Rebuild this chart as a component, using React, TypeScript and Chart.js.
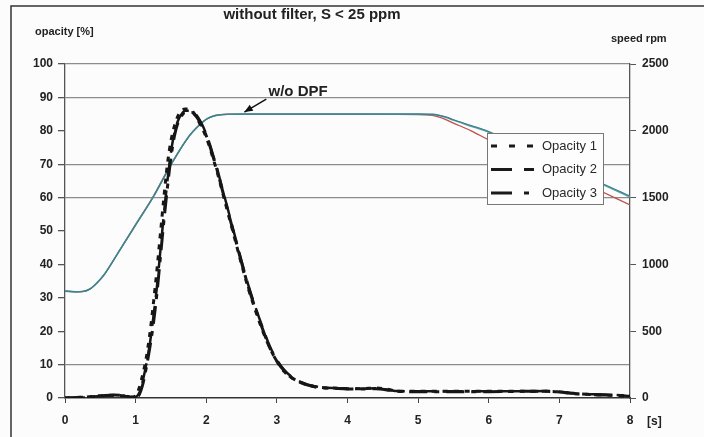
import React, { useEffect, useRef } from "react";
import { Chart, registerables } from "chart.js";

Chart.register(...registerables);

// ---- Data ----
const TITLE = "without filter, S < 25 ppm";
const LEFT_AXIS_TITLE = "opacity [%]";
const RIGHT_AXIS_TITLE = "speed rpm";
const X_UNIT = "[s]";
const ANNOTATION = "w/o DPF";

const OPACITY_LABELS = ["Opacity 1", "Opacity 2", "Opacity 3"];

const TIME_OPACITY = [
  0, 0.3, 0.5, 0.7, 0.85, 0.95, 1.0, 1.05, 1.1, 1.15, 1.2, 1.25, 1.3, 1.35, 1.4,
  1.45, 1.5, 1.55, 1.6, 1.65, 1.7, 1.75, 1.8, 1.85, 1.9, 1.95, 2.0, 2.05, 2.1,
  2.15, 2.2, 2.3, 2.4, 2.5, 2.6, 2.7, 2.8, 2.9, 3.0, 3.1, 3.2, 3.3, 3.4, 3.5,
  3.6, 3.8, 4.0, 4.2, 4.4, 4.6, 4.7, 5.0, 5.5, 6.0, 6.5, 6.8, 7.0, 7.2, 7.5,
  7.8, 8.0,
];

const OPACITY_1 = [
  0, 0.3, 0.7, 0.8, 0.6, 0.3, 0.6, 3, 7, 12, 19, 28, 38, 49, 60,
  70, 77, 81.5, 84.5, 86, 86.5, 86.5, 86, 84.5, 82.5, 80.5, 78, 75, 71.5,
  68, 64, 56, 48, 40, 32.5, 26, 20, 15, 11, 8, 6.2, 5, 4.2, 3.6,
  3.2, 3, 2.8, 2.8, 3, 2.5, 2, 2, 2, 2, 2, 2, 1.8, 1.3, 1,
  0.8, 0.5,
];

const OPACITY_2 = [
  0, 0.2, 0.6, 0.8, 0.6, 0.2, 0.3, 1.5, 5, 10, 16, 24, 33, 44, 55,
  65, 73.5, 79.5, 83, 85, 86, 86, 86, 85, 83.5, 81.5, 79, 76, 72.5,
  69, 65, 57, 49, 41, 33.5, 27, 21, 15.5, 11.5, 8.5, 6.5, 5.2, 4.3, 3.7,
  3.3, 3, 2.9, 2.8, 2.9, 2.4, 2.1, 2, 2, 2, 2, 2.1, 1.9, 1.4, 1.1,
  0.9, 0.6,
];

const OPACITY_3 = [
  0, 0.3, 0.6, 0.9, 0.7, 0.2, 0.2, 1, 4, 9, 15, 22, 31, 42, 53,
  63, 72, 78.5, 82.5, 84.5, 85.5, 85.5, 85.5, 84.5, 83, 81, 78.5, 75.5, 72,
  68.5, 64.5, 56.5, 48.5, 40.5, 33, 26.5, 20.5, 15, 11, 8.2, 6.2, 4.9, 4.1, 3.5,
  3.1, 2.9, 2.7, 2.7, 2.8, 2.3, 2, 1.9, 1.9, 1.9, 2, 2, 1.8, 1.4, 1,
  0.8, 0.5,
];

const TIME_SPEED = [
  0, 0.15, 0.25, 0.35, 0.45, 0.55, 0.75, 1.0, 1.25, 1.5, 1.75, 1.9, 2.0, 2.1, 2.2, 2.3,
  2.5, 3.0, 4.0, 5.0, 5.2, 5.3, 5.4, 5.5, 5.75, 6.0, 6.5, 7.0, 7.5, 8.0,
];

const SPEED_1 = [
  800, 795, 797, 815, 860, 920, 1085, 1295, 1505, 1745, 1955, 2042, 2086, 2110, 2120, 2124,
  2125, 2125, 2125, 2125, 2123, 2115, 2100, 2080, 2035, 1990, 1870, 1750, 1625, 1505,
];

const SPEED_2 = [
  800, 795, 797, 815, 860, 920, 1085, 1295, 1505, 1745, 1955, 2042, 2086, 2110, 2120, 2124,
  2125, 2125, 2125, 2125, 2123, 2116, 2102, 2083, 2040, 1995, 1878, 1758, 1632, 1512,
];

const SPEED_3 = [
  800, 795, 797, 815, 860, 920, 1085, 1300, 1510, 1750, 1955, 2042, 2086, 2110, 2120, 2124,
  2125, 2125, 2125, 2122, 2115, 2102, 2082, 2058, 2000, 1932, 1812, 1692, 1570, 1445,
];

const Y_GRID_VALUES = [100, 90, 70, 60, 10];
const X_MIN = 0;
const X_MAX = 8;
const Y_MAX = 100;
const Y1_MAX = 2500;

const FONT = '"Liberation Sans", Arial, sans-serif';

const OPACITY_STYLES = [
  { dash: [5, 6], legendDash: [6, 12], width: 3 },
  { dash: [20, 9], legendDash: [21, 12], width: 2.5 },
  { dash: [18, 7, 5, 7], legendDash: [21, 12, 5, 12], width: 3 },
];

const pts = (xs: number[], ys: number[]) => xs.map((x, i) => ({ x, y: ys[i] }));

const overlayPlugin = {
  id: "overlay",
  beforeDraw(chart: any) {
    const { ctx, width, height } = chart;
    ctx.save();
    ctx.fillStyle = "#fcfcfc";
    ctx.fillRect(0, 0, width, height);
    ctx.restore();
  },
  afterDraw(chart: any) {
    const { ctx, chartArea } = chart;
    const xs = chart.scales.x;
    const ys = chart.scales.y;
    ctx.save();
    // frame
    ctx.strokeStyle = "#333";
    ctx.lineWidth = 1.5;
    ctx.beginPath();
    ctx.moveTo(11, 440);
    ctx.lineTo(11, 6);
    ctx.lineTo(710, 6);
    ctx.stroke();

    ctx.fillStyle = "#222";
    ctx.textBaseline = "middle";
    // title
    ctx.font = `bold 15px ${FONT}`;
    ctx.textAlign = "center";
    ctx.fillText(TITLE, 312, 15);
    // axis titles
    ctx.font = `bold 11px ${FONT}`;
    ctx.textAlign = "left";
    ctx.fillText(LEFT_AXIS_TITLE, 35, 32);
    ctx.fillText(RIGHT_AXIS_TITLE, 611, 39);
    // x unit
    ctx.font = `bold 12px ${FONT}`;
    ctx.fillText(X_UNIT, chartArea.right + 17, 422);

    // annotation
    ctx.font = `bold 15px ${FONT}`;
    ctx.textAlign = "center";
    ctx.fillText(ANNOTATION, xs.getPixelForValue(3.3), ys.getPixelForValue(91.6));
    const x0 = xs.getPixelForValue(2.85);
    const y0 = ys.getPixelForValue(89.5);
    const x1 = xs.getPixelForValue(2.54);
    const y1 = ys.getPixelForValue(85.6);
    ctx.strokeStyle = "#111";
    ctx.lineWidth = 1.5;
    ctx.beginPath();
    ctx.moveTo(x0, y0);
    ctx.lineTo(x1, y1);
    ctx.stroke();
    const ang = Math.atan2(y1 - y0, x1 - x0);
    const L = 9;
    ctx.beginPath();
    ctx.moveTo(x1, y1);
    ctx.lineTo(x1 - L * Math.cos(ang - 0.4), y1 - L * Math.sin(ang - 0.4));
    ctx.lineTo(x1 - L * Math.cos(ang + 0.4), y1 - L * Math.sin(ang + 0.4));
    ctx.closePath();
    ctx.fillStyle = "#111";
    ctx.fill();

    // legend
    const bx = chartArea.right - 143;
    const by = chartArea.top + 69;
    const bw = 116;
    const bh = 71;
    ctx.fillStyle = "#fdfdfd";
    ctx.fillRect(bx, by, bw, bh);
    ctx.strokeStyle = "#777";
    ctx.lineWidth = 1;
    ctx.strokeRect(bx + 0.5, by + 0.5, bw, bh);
    ctx.font = `13px ${FONT}`;
    ctx.textAlign = "left";
    OPACITY_LABELS.forEach((lab, i) => {
      const yy = by + 13 + i * 23.5;
      ctx.strokeStyle = "#1a1a1a";
      ctx.lineWidth = 3;
      ctx.setLineDash(OPACITY_STYLES[i].legendDash);
      ctx.beginPath();
      ctx.moveTo(bx + 4, yy);
      ctx.lineTo(bx + 47, yy);
      ctx.stroke();
      ctx.setLineDash([]);
      ctx.fillStyle = "#2a2a2a";
      ctx.fillText(lab, bx + 55, yy);
    });
    ctx.restore();
  },
};

export default function App() {
  const canvasRef = useRef<HTMLCanvasElement | null>(null);

  useEffect(() => {
    if (!canvasRef.current) return;
    const speedStyle = (data: number[], color: string, width: number, label: string, order: number) => ({
      label,
      data: pts(TIME_SPEED, data),
      yAxisID: "y1",
      borderColor: color,
      borderWidth: width,
      pointRadius: 0,
      fill: false,
      cubicInterpolationMode: "monotone" as const,
      order,
    });
    const chart = new Chart(canvasRef.current, {
      type: "line",
      data: {
        datasets: [
          ...OPACITY_LABELS.map((label, i) => ({
            label,
            data: pts(TIME_OPACITY, [OPACITY_1, OPACITY_2, OPACITY_3][i]),
            yAxisID: "y",
            borderColor: "#161616",
            borderWidth: OPACITY_STYLES[i].width,
            borderDash: OPACITY_STYLES[i].dash,
            pointRadius: 0,
            fill: false,
            cubicInterpolationMode: "monotone" as const,
            order: 1,
          })),
          speedStyle(SPEED_1, "#5a9ea6", 1.6, "speed 1", 3),
          speedStyle(SPEED_2, "#3b808b", 1.2, "speed 2", 2),
          speedStyle(SPEED_3, "#c0504d", 1.3, "speed 3", 4),
        ],
      },
      options: {
        responsive: false,
        animation: false,
        layout: { padding: { top: 64, left: 0, right: 0, bottom: 0 } },
        plugins: {
          legend: { display: false },
          title: { display: false },
          tooltip: { enabled: false },
        },
        scales: {
          x: {
            type: "linear",
            min: X_MIN,
            max: X_MAX,
            ticks: { stepSize: 1, color: "#222", font: { family: FONT, size: 12, weight: "bold" }, padding: 10 },
            grid: { drawOnChartArea: false, tickLength: 5, tickColor: "#444" },
            border: { display: true, color: "#333", width: 1.5 },
            afterFit: (s: any) => { s.height = 39; },
          },
          y: {
            type: "linear",
            position: "left",
            min: 0,
            max: Y_MAX,
            ticks: { stepSize: 10, color: "#222", font: { family: FONT, size: 12, weight: "bold" }, padding: 5 },
            grid: {
              color: (c: any) => (Y_GRID_VALUES.includes(c.tick?.value) ? "#8c8c8c" : "rgba(0,0,0,0)"),
              tickColor: "#555",
              tickLength: 7,
              lineWidth: 1.3,
            },
            border: { display: true, color: "#555", width: 1.3 },
            afterFit: (s: any) => { s.width = 65; },
          },
          y1: {
            type: "linear",
            position: "right",
            min: 0,
            max: Y1_MAX,
            ticks: {
              stepSize: 500,
              color: "#222",
              font: { family: FONT, size: 12, weight: "bold" },
              padding: 6,
              callback: (v: any) => String(v),
            },
            grid: { drawOnChartArea: false, tickColor: "#555", tickLength: 6 },
            border: { display: true, color: "#555", width: 1.3 },
            afterFit: (s: any) => { s.width = 74; },
          },
        },
      },
      plugins: [overlayPlugin],
    } as any);
    return () => chart.destroy();
  }, []);

  return (
    <div style={{ position: "fixed", left: 0, top: 0, width: 704, height: 437 }}>
      <canvas ref={canvasRef} width={704} height={437} />
    </div>
  );
}
